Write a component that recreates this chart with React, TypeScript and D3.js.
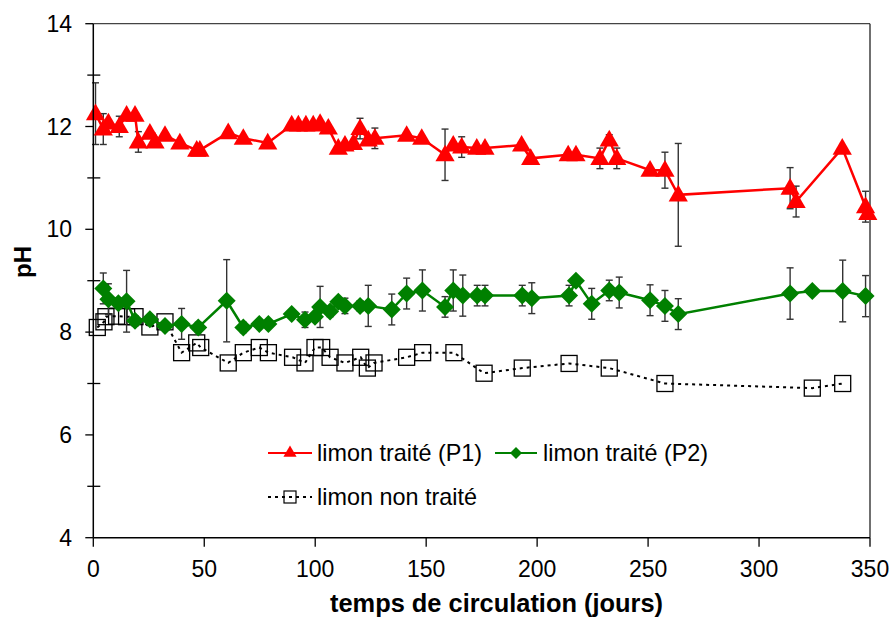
import React from "react";
import * as d3 from "d3";

// ---- data ----
const p1Days = [1, 4.5, 6.8, 11.7, 15, 18.8, 20.3, 25.5, 27.8, 32.3, 39, 46.6, 48, 60.8, 67.6, 78.6, 89.4, 92.4, 95.8, 99.1, 102.2, 105.9, 110.4, 113.4, 117.2, 120.2, 123.9, 126.9, 141.2, 148, 158.5, 162.2, 166, 172.8, 176.5, 193, 197.1, 214, 217.5, 228.3, 232.5, 235.9, 250.9, 257.6, 263.6, 314, 316.7, 337.5, 348, 349];
const p1pH = [12.25, 11.95, 12.07, 12.0, 12.22, 12.22, 11.7, 11.87, 11.7, 11.83, 11.68, 11.54, 11.54, 11.88, 11.77, 11.68, 12.03, 12.03, 12.03, 12.03, 12.06, 11.97, 11.58, 11.64, 11.67, 11.96, 11.74, 11.77, 11.83, 11.77, 11.45, 11.64, 11.6, 11.58, 11.58, 11.64, 11.38, 11.45, 11.45, 11.38, 11.74, 11.38, 11.15, 11.15, 10.67, 10.8, 10.54, 11.58, 10.44, 10.31];
const p1Err = [0.6, 0.3, 0, 0.2, 0, 0, 0.2, 0, 0, 0, 0, 0, 0, 0, 0, 0, 0, 0, 0, 0, 0, 0, 0, 0, 0, 0.2, 0, 0.2, 0, 0, 0.5, 0, 0.2, 0, 0, 0, 0, 0, 0, 0.2, 0.1, 0.2, 0.05, 0.35, 1.0, 0.4, 0.3, 0, 0.3, 0];

const p2Days = [4.5, 6.8, 11.3, 15, 18.8, 25.5, 32.3, 39.8, 47.3, 60.1, 67.6, 74.8, 78.9, 89.4, 95.4, 99.9, 102.2, 106.7, 110.4, 113.4, 120.2, 123.9, 134.5, 141.2, 148.3, 158.5, 162.2, 166.5, 173, 176.5, 193.3, 197.6, 214.4, 217.5, 224.6, 232.5, 237, 250.9, 257.6, 263.6, 314, 324, 337.7, 348];
const p2pH = [8.85, 8.64, 8.56, 8.6, 8.22, 8.25, 8.12, 8.16, 8.09, 8.61, 8.09, 8.16, 8.16, 8.35, 8.24, 8.3, 8.49, 8.4, 8.59, 8.51, 8.51, 8.51, 8.44, 8.75, 8.81, 8.49, 8.81, 8.71, 8.71, 8.71, 8.71, 8.66, 8.71, 9.0, 8.55, 8.81, 8.77, 8.62, 8.51, 8.35, 8.75, 8.8, 8.8, 8.7];
const p2Err = [0.3, 0.3, 0.1, 0.6, 0.1, 0, 0, 0.3, 0.1, 0.8, 0.1, 0, 0, 0, 0.15, 0, 0.4, 0.1, 0, 0.15, 0.1, 0.4, 0.3, 0.3, 0.4, 0.2, 0.4, 0.4, 0.2, 0.2, 0.2, 0.3, 0.2, 0, 0.3, 0.2, 0.3, 0.3, 0.3, 0.3, 0.5, 0, 0.6, 0.4];

const ntDays = [1.8, 4.8, 5.7, 10.5, 15, 18.8, 25.5, 32.3, 39.8, 46.6, 48.4, 60.8, 67.6, 74.8, 78.9, 89.8, 95.4, 99.9, 102.9, 106.7, 113.4, 120.5, 123.5, 126.5, 141.2, 148.4, 162.5, 176.1, 193.3, 214.4, 232.5, 257.6, 324, 337.7];
const ntpH = [8.09, 8.2, 8.3, 8.31, 8.3, 8.3, 8.1, 8.2, 7.6, 7.79, 7.7, 7.4, 7.6, 7.7, 7.6, 7.51, 7.4, 7.7, 7.7, 7.51, 7.4, 7.51, 7.3, 7.4, 7.51, 7.6, 7.6, 7.2, 7.3, 7.39, 7.3, 7.0, 6.91, 7.0];

const xTicks = [0, 50, 100, 150, 200, 250, 300, 350];
const yTicks = [4, 6, 8, 10, 12, 14];
const yMinorTicks = [5, 7, 9, 11, 13];

const legendLabels = ["limon traité (P1)", "limon traité (P2)", "limon non traité"];
const xTitle = "temps de circulation (jours)";
const yTitle = "pH";

// ---- layout ----
const W = 891;
const H = 622;
const L = 93.3, R = 870, T = 23.7, B = 537.7;
const FONT = "'Liberation Sans', Arial, sans-serif";

const RED = "#ff0000";
const GREEN = "#008000";

type Pt = { x: number; y: number; e: number };
const zip = (xs: number[], ys: number[], es?: number[]): Pt[] =>
  xs.map((x, i) => ({ x, y: ys[i], e: es ? es[i] : 0 }));

export default function App() {
  const x = d3.scaleLinear().domain([0, 350]).range([L, R]);
  const y = d3.scaleLinear().domain([4, 14]).range([B, T]);

  const p1 = zip(p1Days, p1pH, p1Err);
  const p2 = zip(p2Days, p2pH, p2Err);
  const nt = zip(ntDays, ntpH);

  const line = d3
    .line<Pt>()
    .x((d) => x(d.x))
    .y((d) => y(d.y));

  const tri = d3.symbol().type(d3.symbolTriangle).size(160)();
  const triSmall = d3.symbol().type(d3.symbolTriangle).size(75)();

  const errBars = (pts: Pt[], key: string) =>
    pts
      .filter((d) => d.e > 0)
      .map((d, i) => {
        const cx = x(d.x);
        const y1 = y(d.y + d.e);
        const y2 = y(d.y - d.e);
        return (
          <g key={key + i} stroke="#333" strokeWidth={1.4}>
            <line x1={cx} x2={cx} y1={y1} y2={y2} />
            <line x1={cx - 3.5} x2={cx + 3.5} y1={y1} y2={y1} />
            <line x1={cx - 3.5} x2={cx + 3.5} y1={y2} y2={y2} />
          </g>
        );
      });

  const diamond = (cx: number, cy: number, r: number) =>
    `M${cx},${cy - r}L${cx + r},${cy}L${cx},${cy + r}L${cx - r},${cy}Z`;

  return (
    <svg
      width={W}
      height={H}
      style={{ position: "absolute", left: 0, top: 0, background: "#fff" }}
      fontFamily={FONT}
    >
      <rect x={0} y={0} width={W} height={H} fill="#fff" />
      {/* frame */}
      <line x1={L} x2={R} y1={T} y2={T} stroke="#444" strokeWidth={1.3} />
      <line x1={R} x2={R} y1={T} y2={B} stroke="#222" strokeWidth={1.3} />

      {/* non traité series */}
      {errBars(nt, "nt")}
      <path d={line(nt) || ""} fill="none" stroke="#000" strokeWidth={2} strokeDasharray="3,4" />
      {nt.map((d, i) => (
        <rect
          key={"ntm" + i}
          x={x(d.x) - 8}
          y={y(d.y) - 8}
          width={16}
          height={16}
          fill="none"
          stroke="#000"
          strokeWidth={1.3}
        />
      ))}

      {/* P2 series */}
      {errBars(p2, "p2")}
      <path d={line(p2) || ""} fill="none" stroke={GREEN} strokeWidth={2.5} />
      {p2.map((d, i) => (
        <path key={"p2m" + i} d={diamond(x(d.x), y(d.y), 9)} fill={GREEN} />
      ))}

      {/* P1 series */}
      {errBars(p1, "p1")}
      <path d={line(p1) || ""} fill="none" stroke={RED} strokeWidth={2.5} />
      {p1.map((d, i) => (
        <path key={"p1m" + i} d={tri || ""} transform={`translate(${x(d.x)},${y(d.y) + 1})`} fill={RED} />
      ))}

      {/* axes */}
      <line x1={L} x2={L} y1={T} y2={B} stroke="#000" strokeWidth={1.5} />
      <line x1={L} x2={R} y1={B} y2={B} stroke="#000" strokeWidth={1.5} />
      {yTicks.map((t) => (
        <g key={"yt" + t}>
          <line x1={L - 8} x2={L} y1={y(t)} y2={y(t)} stroke="#000" strokeWidth={1.3} />
          <text x={72} y={y(t)} dy="0.35em" textAnchor="end" fontSize={23} fill="#000">
            {t}
          </text>
        </g>
      ))}
      {yMinorTicks.map((t) => (
        <line key={"ym" + t} x1={L - 6} x2={L + 7} y1={y(t)} y2={y(t)} stroke="#000" strokeWidth={1.3} />
      ))}
      {xTicks.map((t) => (
        <g key={"xt" + t}>
          <line x1={x(t)} x2={x(t)} y1={B} y2={B + 9} stroke="#000" strokeWidth={1.3} />
          <text x={x(t)} y={577} textAnchor="middle" fontSize={23} fill="#000">
            {t}
          </text>
        </g>
      ))}
      <text x={496.5} y={612} textAnchor="middle" fontSize={25.4} fontWeight="bold" fill="#000">
        {xTitle}
      </text>
      <text
        transform={`translate(31,262) rotate(-90)`}
        textAnchor="middle"
        fontSize={24}
        fontWeight="bold"
        fill="#000"
      >
        {yTitle}
      </text>

      {/* legend */}
      <g>
        <line x1={268} x2={312} y1={453} y2={453} stroke={RED} strokeWidth={2} />
        <path d={triSmall || ""} transform="translate(290,453)" fill={RED} />
        <text x={317} y={453} dy="0.35em" fontSize={23.4} fill="#000">
          {legendLabels[0]}
        </text>
        <line x1={495} x2={537} y1={453} y2={453} stroke={GREEN} strokeWidth={2} />
        <path d={diamond(516, 453, 6)} fill={GREEN} />
        <text x={543} y={453} dy="0.35em" fontSize={23.4} fill="#000">
          {legendLabels[1]}
        </text>
        <line x1={268} x2={312} y1={497} y2={497} stroke="#000" strokeWidth={2} strokeDasharray="3,4" />
        <rect x={284} y={491} width={12} height={12} fill="none" stroke="#000" strokeWidth={1.2} />
        <text x={317} y={497} dy="0.35em" fontSize={23.4} fill="#000">
          {legendLabels[2]}
        </text>
      </g>
    </svg>
  );
}
